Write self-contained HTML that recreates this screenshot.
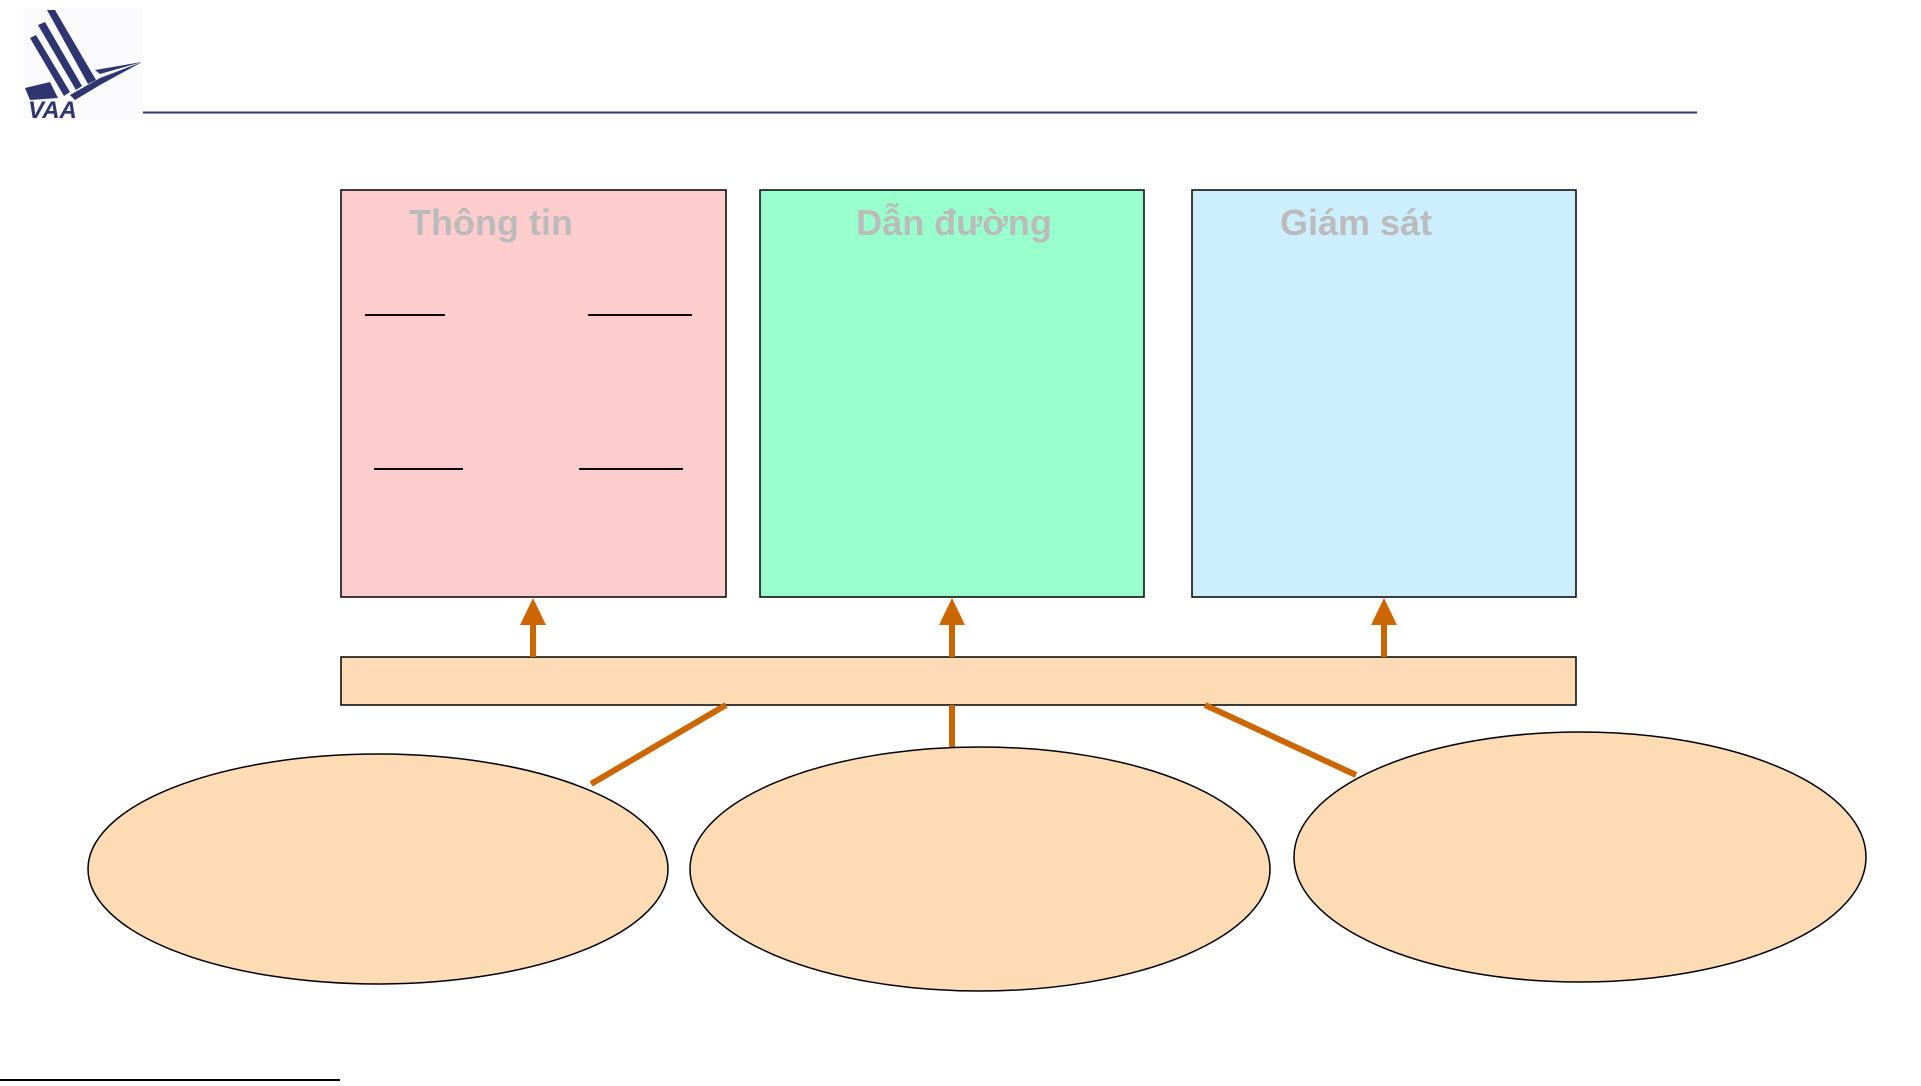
<!DOCTYPE html>
<html><head><meta charset="utf-8"><style>
body{margin:0;width:1921px;height:1081px;background:#fff;overflow:hidden}
</style></head><body>
<svg width="1921" height="1081" viewBox="0 0 1921 1081" xmlns="http://www.w3.org/2000/svg">
<rect x="23" y="8" width="120" height="112" fill="#fbfbfd"/>
<g fill="#2e3570">
<polygon points="47,10 55,10 96,80 88,84"/>
<polygon points="38,25 45,22 82,86 76,90"/>
<polygon points="30,38 36,35 70,92 64,96"/>
<polygon points="25,88 50,82 58,98 30,100"/>
<polygon points="70,95 100,78 142,62 100,85 75,100"/>
<polygon points="95,70 130,64 142,62 100,74"/>
<text x="28" y="118" font-family="Liberation Sans,sans-serif" font-weight="bold" font-style="italic" font-size="24">VAA</text>
</g>
<line x1="143" y1="112.5" x2="1697" y2="112.5" stroke="#2e3570" stroke-width="2"/>
<rect x="341" y="190" width="385" height="407" fill="#fdcccc" stroke="#000" stroke-width="1.5"/>
<rect x="760" y="190" width="384" height="407" fill="#99ffcc" stroke="#000" stroke-width="1.5"/>
<rect x="1192" y="190" width="384" height="407" fill="#cceeff" stroke="#000" stroke-width="1.5"/>
<g font-family="Liberation Sans,sans-serif" font-weight="bold" font-size="36" fill="#bbbbbb" text-anchor="middle">
<text x="491" y="235">Thông tin</text>
<text x="954" y="235">Dẫn đường</text>
<text x="1356" y="235">Giám sát</text>
</g>
<g stroke="#000" stroke-width="2">
<line x1="365" y1="315" x2="445" y2="315"/><line x1="588" y1="315" x2="692" y2="315"/>
<line x1="374" y1="469" x2="463" y2="469"/><line x1="579" y1="469" x2="683" y2="469"/>
</g>
<rect x="341" y="657" width="1235" height="48" fill="#fddbb4" stroke="#000" stroke-width="1.5"/>
<g stroke="#cc6600" stroke-width="6" fill="#cc6600">
<line x1="533" y1="657" x2="533" y2="620"/><polygon stroke="none" points="520,625 533,598 546,625"/>
<line x1="952" y1="657" x2="952" y2="620"/><polygon stroke="none" points="939,625 952,598 965,625"/>
<line x1="1384" y1="657" x2="1384" y2="620"/><polygon stroke="none" points="1371,625 1384,598 1397,625"/>
<line x1="726" y1="705" x2="591" y2="784"/>
<line x1="952" y1="705" x2="952" y2="747"/>
<line x1="1205" y1="705" x2="1356" y2="775"/>
</g>
<g fill="#fddbb4" stroke="#000" stroke-width="1.5">
<ellipse cx="378" cy="869" rx="290" ry="115"/>
<ellipse cx="980" cy="869" rx="290" ry="122"/>
<ellipse cx="1580" cy="857" rx="286" ry="125"/>
</g>
<line x1="0" y1="1080" x2="340" y2="1080" stroke="#000" stroke-width="2"/>
</svg>
</body></html>
